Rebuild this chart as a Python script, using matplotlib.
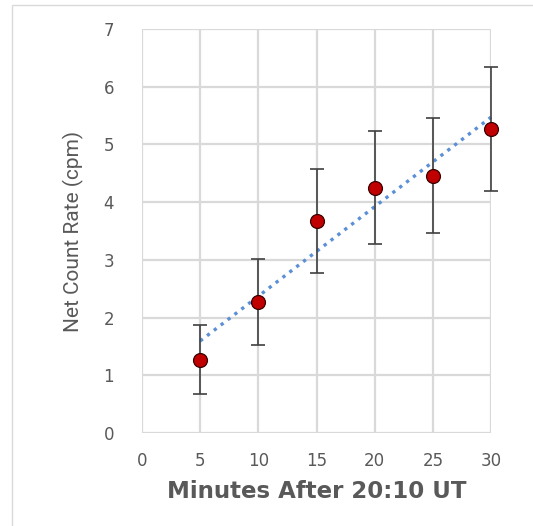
import numpy as np
import matplotlib
matplotlib.use("Agg")
import matplotlib.pyplot as plt
from matplotlib.patches import Rectangle

minutes = [5, 10, 15, 20, 25, 30]
net_rate = [1.27, 2.27, 3.68, 4.25, 4.46, 5.27]
rate_err = [0.60, 0.75, 0.90, 0.98, 0.99, 1.07]

x_ticks = [0, 5, 10, 15, 20, 25, 30]
y_ticks = [0, 1, 2, 3, 4, 5, 6, 7]

fig = plt.figure(figsize=(5.33, 5.26), dpi=100)
fig.patches.append(Rectangle((12 / 533, -0.01), 1.0, 1 - 5 / 526 + 0.01,
                             transform=fig.transFigure, fill=False,
                             edgecolor="#d9d9d9", linewidth=1.0))
ax = fig.add_axes([142 / 533, 1 - 433 / 526, (491 - 142) / 533, (433 - 29) / 526])

# linear trend line (Excel style)
slope, intercept = np.polyfit(minutes, net_rate, 1)
xs = np.array([minutes[0], minutes[-1]])
ax.plot(xs, slope * xs + intercept, linestyle=(0, (1, 1.6)), color="#5b8fd6",
        linewidth=2.4, zorder=2, clip_on=False)

eb = ax.errorbar(minutes, net_rate, yerr=rate_err, fmt="none", ecolor="#404040",
                 elinewidth=1.2, capsize=5, capthick=1.2, zorder=3)
for art in eb.lines[1] + eb.lines[2]:
    art.set_clip_on(False)
ax.plot(minutes, net_rate, "o", color="#c00000", markeredgecolor="#3a0000",
        markeredgewidth=0.9, markersize=10, zorder=4, clip_on=False)

ax.set_xlim(0, 30)
ax.set_ylim(0, 7)
ax.set_xticks(x_ticks)
ax.set_yticks(y_ticks)
ax.grid(True, color="#d9d9d9", linewidth=1.6)
ax.set_axisbelow(True)
for s in ax.spines.values():
    s.set_visible(False)
ax.tick_params(length=0, labelsize=12, colors="#595959")
ax.tick_params(axis="x", pad=14)
ax.tick_params(axis="y", pad=20)

ax.set_xlabel("Minutes After 20:10 UT", fontsize=16.5, fontweight="bold",
              color="#595959", labelpad=7)
ax.set_ylabel("Net Count Rate (cpm)", fontsize=15, color="#595959",
              fontfamily="Roboto", labelpad=14)

fig.savefig("out.png", dpi=100)
